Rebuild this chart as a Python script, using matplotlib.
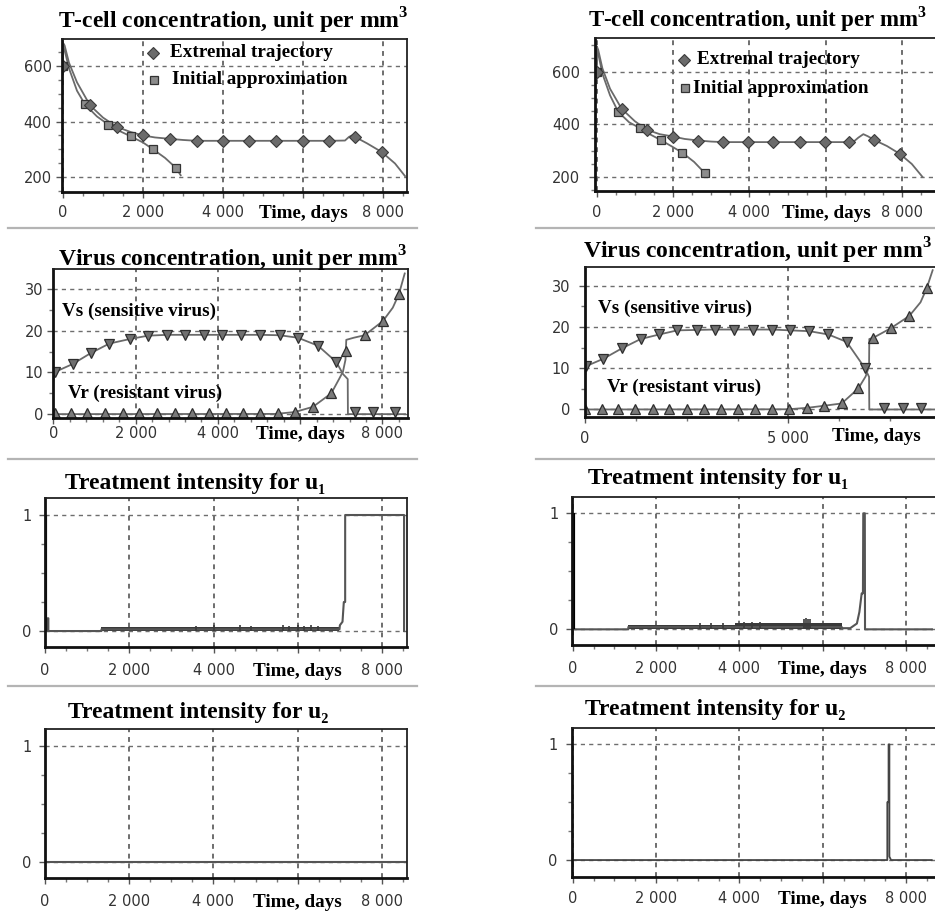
import matplotlib
matplotlib.use('Agg')
import matplotlib.pyplot as plt
from matplotlib.ticker import FixedLocator, MultipleLocator, NullFormatter
from matplotlib.lines import Line2D
from matplotlib.transforms import blended_transform_factory

plt.rcParams['mathtext.fontset'] = 'custom'
plt.rcParams['mathtext.rm'] = 'Liberation Serif'
plt.rcParams['mathtext.bf'] = 'Liberation Serif:bold'

# ---------------- data ----------------
# T-cell, left
tcL_ext_x = [0, 5, 40, 150, 350, 675, 1000, 1342, 1700, 2008, 2300, 2675, 3000, 3342, 4000, 4658, 5325, 6000, 6658, 7050, 7150, 7220, 7300, 7600, 7967, 8300, 8550]
tcL_ext_y = [600, 680, 672, 610, 540, 458, 414, 381, 362, 350, 343, 338, 334, 331, 331, 331, 331, 331, 331, 332, 345, 350, 345, 322, 291, 250, 205]
tcL_ext_mx = [0, 675, 1342, 2008, 2675, 3342, 4000, 4658, 5325, 6000, 6658, 7300, 7967]
tcL_ext_my = [600, 458, 381, 350, 338, 331, 331, 331, 331, 331, 331, 345, 291]
tcL_ini_x = [0, 5, 40, 150, 350, 550, 850, 1133, 1400, 1692, 2000, 2258, 2550, 2825, 2942]
tcL_ini_y = [600, 665, 655, 590, 510, 461, 418, 389, 367, 347, 325, 300, 270, 234, 208]
tcL_ini_mx = [0, 550, 1133, 1692, 2258, 2825]
tcL_ini_my = [600, 461, 389, 347, 300, 234]

# T-cell, right
tcR_ext_x = [0, 5, 40, 150, 350, 654, 1000, 1309, 1650, 2006, 2300, 2660, 3000, 3315, 3970, 4625, 5322, 5976, 6613, 6720, 6850, 6980, 7100, 7267, 7600, 7940, 8250, 8524]
tcR_ext_y = [600, 695, 682, 612, 535, 459, 412, 380, 363, 354, 345, 339, 335, 333, 333, 333, 333, 333, 333, 334, 350, 363, 355, 341, 318, 288, 250, 202]
tcR_ext_mx = [0, 654, 1309, 2006, 2660, 3315, 3970, 4625, 5322, 5976, 6613, 7267, 7940]
tcR_ext_my = [600, 459, 380, 354, 339, 333, 333, 333, 333, 333, 333, 341, 288]
tcR_ini_x = [0, 5, 40, 150, 350, 566, 850, 1133, 1400, 1675, 1950, 2241, 2550, 2835, 2870]
tcR_ini_y = [600, 680, 668, 592, 510, 447, 408, 386, 362, 341, 318, 293, 258, 215, 205]
tcR_ini_mx = [0, 566, 1133, 1675, 2241, 2835]
tcR_ini_my = [600, 447, 386, 341, 293, 215]

# Virus, left
vsL_x = [0, 41, 470, 907, 1360, 1862, 2306, 2767, 3196, 3658, 4110, 4571, 5032, 5502, 5947, 6432, 6877, 7040, 7155, 7160, 8550]
vsL_y = [7.8, 10.1, 12.0, 14.6, 16.9, 18.0, 18.8, 19.0, 19.0, 19.0, 19.0, 19.0, 19.0, 18.9, 18.3, 16.4, 12.5, 9.6, 8.4, 0.0, 0.0]
vsL_mx = [41, 470, 907, 1360, 1862, 2306, 2767, 3196, 3658, 4110, 4571, 5032, 5502, 5947, 6432, 6877, 7322, 7767, 8294]
vsL_my = [10.1, 12.0, 14.6, 16.9, 18.0, 18.8, 19.0, 19.0, 19.0, 19.0, 19.0, 19.0, 18.9, 18.3, 16.4, 12.5, 0.4, 0.4, 0.4]
vrL_x = [0, 5400, 5870, 6311, 6757, 6950, 7040, 7100, 7120, 7300, 7565, 8010, 8250, 8398, 8540]
vrL_y = [0.0, 0.05, 0.5, 1.75, 5.0, 8.5, 10.2, 13.0, 17.8, 18.3, 18.9, 22.3, 25.5, 28.7, 33.7]
vrL_mx = [41, 422, 825, 1255, 1685, 2087, 2524, 2954, 3359, 3786, 4191, 4612, 5034, 5461, 5866, 6311, 6757, 7104, 7565, 8010, 8398]
vrL_my = [0.3, 0.3, 0.3, 0.3, 0.3, 0.3, 0.3, 0.3, 0.3, 0.3, 0.3, 0.3, 0.3, 0.3, 0.5, 1.75, 5.0, 15.1, 18.9, 22.3, 28.7]

# Virus, right
vsR_x = [0, 25, 451, 902, 1369, 1828, 2270, 2746, 3197, 3664, 4123, 4590, 5041, 5516, 5983, 6435, 6885, 6985, 6991, 8620]
vsR_y = [7.9, 10.5, 12.3, 14.8, 17.1, 18.2, 19.2, 19.3, 19.4, 19.4, 19.4, 19.4, 19.2, 19.0, 18.2, 16.4, 10.0, 7.9, 0.0, 0.0]
vsR_mx = [25, 451, 902, 1369, 1828, 2270, 2746, 3197, 3664, 4123, 4590, 5041, 5516, 5983, 6435, 6885, 7352, 7811, 8253]
vsR_my = [10.5, 12.3, 14.8, 17.1, 18.2, 19.2, 19.3, 19.4, 19.4, 19.4, 19.4, 19.2, 19.0, 18.2, 16.4, 10.0, 0.4, 0.4, 0.4]
vrR_x = [0, 5000, 5467, 5877, 6312, 6721, 6900, 6985, 6991, 7090, 7517, 7975, 8250, 8402, 8549]
vrR_y = [0.0, 0.05, 0.4, 0.9, 1.46, 5.1, 8.0, 10.5, 17.1, 17.4, 19.7, 22.7, 26.0, 29.4, 33.8]
vrR_mx = [0, 410, 820, 1230, 1664, 2074, 2500, 2926, 3336, 3770, 4180, 4590, 5024, 5467, 5877, 6312, 6721, 7090, 7517, 7975, 8402]
vrR_my = [0.1, 0.1, 0.1, 0.1, 0.1, 0.1, 0.1, 0.1, 0.1, 0.1, 0.1, 0.1, 0.1, 0.4, 0.9, 1.46, 5.1, 17.4, 19.7, 22.7, 29.4]

# Treatment u1, left
u1L_x = [0, 60, 60, 80, 80, 1340, 1340, 6990, 7000, 7062, 7093, 7125, 7125, 8523, 8523]
u1L_y = [0, 0, 0.11, 0.11, 0, 0, 0.015, 0.015, 0.05, 0.08, 0.25, 0.25, 1.0, 1.0, 0.0]
u1L_band_x = [1340, 6990]
u1L_band_lo = [0.0, 0.0]
u1L_band_hi = [0.035, 0.035]
u1L_spk_x = [3578, 4020, 4637, 4882, 5660, 5798, 5995, 6153, 6311, 6469]
u1L_spk_y = [0.045, 0.055, 0.05, 0.045, 0.05, 0.045, 0.05, 0.045, 0.05, 0.045]

# Treatment u1, right
u1R_x = [0, 1335, 1335, 6456, 6456, 6660, 6700, 6820, 6880, 6935, 6965, 6973, 7010, 7015, 8620]
u1R_y = [0, 0, 0.02, 0.02, 0.01, 0.01, 0.02, 0.05, 0.15, 0.31, 0.31, 1.0, 1.0, 0.0, 0.0]
u1R_band_x = [1335, 3900, 3900, 6456]
u1R_band_lo = [0.0, 0.0, 0.0, 0.0]
u1R_band_hi = [0.035, 0.035, 0.055, 0.055]
u1R_spk_x = [3050, 3330, 3600, 4100, 4300, 4500, 5540, 5600, 5650, 5700]
u1R_spk_y = [0.055, 0.055, 0.055, 0.065, 0.065, 0.065, 0.09, 0.095, 0.09, 0.09]

# Treatment u2
u2L_x = [0, 8590]
u2L_y = [0, 0]
u2R_x = [0, 7550, 7550, 7580, 7580, 7600, 7600, 7640, 8616]
u2R_y = [0, 0, 0.5, 0.5, 1.0, 1.0, 0.03, 0.0, 0.0]

x_ticks = [0, 2000, 4000, 6000, 8000]
x_labels = ['0', '2 000', '4 000', 'Time, days', '8 000']
tc_ticks = [200, 400, 600]
v_ticks = [0, 10, 20, 30]
u_ticks = [0, 1]

title_tc = r'T-cell concentration, unit per mm$^{\mathbf{3}}$'
title_v = r'Virus concentration, unit per mm$^{\mathbf{3}}$'
title_u1 = 'Treatment intensity for u₁'
title_u2 = 'Treatment intensity for u₂'
legend_labels = ['Extremal trajectory', 'Initial approximation']
vs_label = 'Vs (sensitive virus)'
vr_label = 'Vr (resistant virus)'

# ---------------- style ----------------
W, H = 935, 914
fig = plt.figure(figsize=(W / 100, H / 100), dpi=100)
SERIF = ['Liberation Serif', 'DejaVu Serif']
SANS = ['DejaVu Sans']
GRID = '#6e6e6e'
LINE = '#6a6a6a'
TFS = 17
LFS = 13.8
TKFS = 10.5


def add_ax(x0, y0, x1, y1):
    return fig.add_axes([x0 / W, 1 - y1 / H, (x1 - x0) / W, (y1 - y0) / H])


def style(ax, xlim, ylim, xt, xl, xminor, yt, yminor, xpad, ypad, tl_idx=3):
    ax.set_xlim(xlim)
    ax.set_ylim(ylim)
    ax.xaxis.set_major_locator(FixedLocator(xt))
    ax.set_xticklabels(xl)
    ax.xaxis.set_minor_locator(MultipleLocator(xminor))
    ax.yaxis.set_major_locator(FixedLocator(yt))
    ax.set_yticklabels([str(v) for v in yt])
    ax.yaxis.set_minor_locator(MultipleLocator(yminor))
    ax.xaxis.set_minor_formatter(NullFormatter())
    ax.yaxis.set_minor_formatter(NullFormatter())
    ax.grid(True, axis='y', which='major', color=GRID, linestyle=(0, (3, 3)), linewidth=1.0)
    ax.grid(True, axis='x', which='major', color=GRID, linestyle=(0, (2.5, 2.5)), linewidth=1.4)
    ax.set_axisbelow(True)
    ax.tick_params(which='major', direction='out', length=4, width=1, color='#555',
                   labelcolor='#333', labelsize=TKFS)
    ax.tick_params(which='minor', direction='out', length=3, width=1, color='#777')
    ax.tick_params(axis='x', which='major', pad=xpad)
    ax.tick_params(axis='y', which='major', pad=ypad)
    for lab in ax.get_xticklabels() + ax.get_yticklabels():
        lab.set_family(SANS)
    if tl_idx is not None:
        lab = ax.get_xticklabels()[tl_idx]
        lab.set_family(SERIF)
        lab.set_fontweight('bold')
        lab.set_fontsize(LFS)
        lab.set_color('black')
    for s in ['left', 'bottom']:
        ax.spines[s].set_linewidth(2.0)
        ax.spines[s].set_color('#111')
    for s in ['top', 'right']:
        ax.spines[s].set_linewidth(1.3)
        ax.spines[s].set_color('#222')


def title(x, y, s, size=TFS):
    fig.text(x / W, 1 - y / H, s, ha='left', va='center', fontsize=size,
             fontweight='bold', family=SERIF, color='black')


def sep(x0, x1, y):
    fig.add_artist(Line2D([x0 / W, x1 / W], [1 - y / H, 1 - y / H], color='#b4b4b4', lw=1.6))


def px_to_axes(ax, box, px, py):
    x0, y0, x1, y1 = box
    return (px - x0) / (x1 - x0), 1 - (py - y0) / (y1 - y0)


def legend(ax, box, d_xy, s_xy, t1x, t2x):
    ax_, ay_ = px_to_axes(ax, box, *d_xy)
    ax.plot([ax_], [ay_], transform=ax.transAxes, marker='D', ms=6.5, mfc='#6b6b6b',
            mec='#3a3a3a', mew=0.8, ls='none', clip_on=False)
    tx, _ = px_to_axes(ax, box, t1x, d_xy[1])
    ax.text(tx, ay_, legend_labels[0], transform=ax.transAxes, ha='left', va='center',
            fontsize=LFS, fontweight='bold', family=SERIF)
    bx, by = px_to_axes(ax, box, *s_xy)
    ax.plot([bx], [by], transform=ax.transAxes, marker='s', ms=5.5, mfc='#8c8c8c',
            mec='#333', mew=0.9, ls='none', clip_on=False)
    tx, _ = px_to_axes(ax, box, t2x, s_xy[1])
    ax.text(tx, by, legend_labels[1], transform=ax.transAxes, ha='left', va='center',
            fontsize=LFS, fontweight='bold', family=SERIF)


def tcell(ax, ex, ey, emx, emy, ix, iy, imx, imy):
    ax.plot(ix, iy, color=LINE, lw=1.3)
    ax.plot(ex, ey, color=LINE, lw=1.3)
    ax.plot(imx, imy, ls='none', marker='s', ms=5.5, mfc='#8c8c8c', mec='#333', mew=0.9)
    ax.plot(emx, emy, ls='none', marker='D', ms=6.5, mfc='#6b6b6b', mec='#3a3a3a', mew=0.8)


def virus(ax, sx, sy, smx, smy, rx, ry, rmx, rmy):
    ax.plot(sx, sy, color=LINE, lw=1.3)
    ax.plot(rx, ry, color=LINE, lw=1.3)
    ax.plot(smx, smy, ls='none', marker='v', ms=7, mfc='#707070', mec='#2e2e2e', mew=0.9)
    ax.plot(rmx, rmy, ls='none', marker='^', ms=7, mfc='#7a7a7a', mec='#2e2e2e', mew=0.9)


def vtext(ax, box, px, py, s):
    tx, ty = px_to_axes(ax, box, px, py)
    ax.text(tx, ty, s, transform=ax.transAxes, ha='left', va='center', fontsize=LFS,
            fontweight='bold', family=SERIF)


# ---------------- left column ----------------
b1 = (62, 39, 407, 192)
a1 = add_ax(*b1)
tcell(a1, tcL_ext_x, tcL_ext_y, tcL_ext_mx, tcL_ext_my, tcL_ini_x, tcL_ini_y, tcL_ini_mx, tcL_ini_my)
style(a1, (-25, 8600), (148, 695), x_ticks, x_labels, 500, tc_ticks, 50, 5.5, 3.4)
legend(a1, b1, (153, 52.7), (154, 80), 170, 171.7)
title(58, 21, title_tc)

b2 = (53.3, 269.3, 408, 418.3)
a2 = add_ax(*b2)
virus(a2, vsL_x, vsL_y, vsL_mx, vsL_my, vrL_x, vrL_y, vrL_mx, vrL_my)
style(a2, (0, 8620), (-1.0, 34.7), x_ticks, x_labels, 400, v_ticks, 5, 1.5, 3.1)
vtext(a2, b2, 62, 311.7, vs_label)
vtext(a2, b2, 68, 393.3, vr_label)
title(58.3, 259, title_v)

b3 = (45, 498.3, 407.3, 646.7)
a3 = add_ax(*b3)
a3.plot(u1L_x, u1L_y, color='#555', lw=1.5)
a3.fill_between(u1L_band_x, u1L_band_lo, u1L_band_hi, color='#3a3a3a', lw=0)
a3.vlines(u1L_spk_x, 0, u1L_spk_y, color='#3a3a3a', lw=1.2)
a3.vlines([0], 0, [1], color='black', lw=3)
style(a3, (0, 8600), (-0.135, 1.144), x_ticks, x_labels, 500, u_ticks, 0.25, 7.7, 5.5)
title(65, 483.3, title_u1)

b4 = (45, 729.3, 406.7, 877.7)
a4 = add_ax(*b4)
a4.plot(u2L_x, u2L_y, color='#555', lw=1.5)
style(a4, (0, 8590), (-0.132, 1.141), x_ticks, x_labels, 500, u_ticks, 0.25, 7.7, 5.5)
title(68.3, 712.3, title_u2)

# ---------------- right column ----------------
b5 = (595, 38.3, 940.5, 190.7)
a5 = add_ax(*b5)
tcell(a5, tcR_ext_x, tcR_ext_y, tcR_ext_mx, tcR_ext_my, tcR_ini_x, tcR_ini_y, tcR_ini_mx, tcR_ini_my)
style(a5, (-44, 9000), (149, 726), x_ticks, x_labels, 500, tc_ticks, 50, 6.5, 6.7)
legend(a5, b5, (684.3, 60), (685, 88.3), 696.7, 692.7)
title(587.5, 19, title_tc, size=16.5)

b6 = (585, 267.3, 938.8, 417.3)
a6 = add_ax(*b6)
virus(a6, vsR_x, vsR_y, vsR_mx, vsR_my, vrR_x, vrR_y, vrR_mx, vrR_my)
style(a6, (0, 8700), (-1.9, 34.5), [0, 5000], ['0', '5 000'], 1250, v_ticks, 5, 6.0, 6.7, tl_idx=None)
trans6 = blended_transform_factory(a6.transData, a6.transAxes)
a6.text(7174, -0.13, 'Time, days', transform=trans6, ha='center', va='center',
        fontsize=LFS, fontweight='bold', family=SERIF)
vtext(a6, b6, 598.3, 308.7, vs_label)
vtext(a6, b6, 607, 387, vr_label)
title(583.3, 251, title_v)

b7 = (571.7, 496.7, 939.4, 645)
a7 = add_ax(*b7)
a7.plot(u1R_x, u1R_y, color='#555', lw=1.5)
a7.fill_between(u1R_band_x, u1R_band_lo, u1R_band_hi, color='#3a3a3a', lw=0)
a7.vlines(u1R_spk_x, 0, u1R_spk_y, color='#3a3a3a', lw=1.2)
a7.vlines([0], 0, [1], color='black', lw=3)
style(a7, (-24, 8800), (-0.135, 1.143), x_ticks, x_labels, 500, u_ticks, 0.25, 7.7, 5.5)
title(588.3, 478.3, title_u1)

b8 = (571.7, 727.7, 939.4, 876.7)
a8 = add_ax(*b8)
a8.plot(u2R_x, u2R_y, color='#444', lw=1.3)
style(a8, (-24, 8800), (-0.144, 1.144), x_ticks, x_labels, 500, u_ticks, 0.25, 6.5, 6.0)
title(585, 710, title_u2)

# separators
for y in (228, 459, 686):
    sep(8, 417, y)
    sep(536, 935, y)

fig.savefig('out.png', dpi=100)
